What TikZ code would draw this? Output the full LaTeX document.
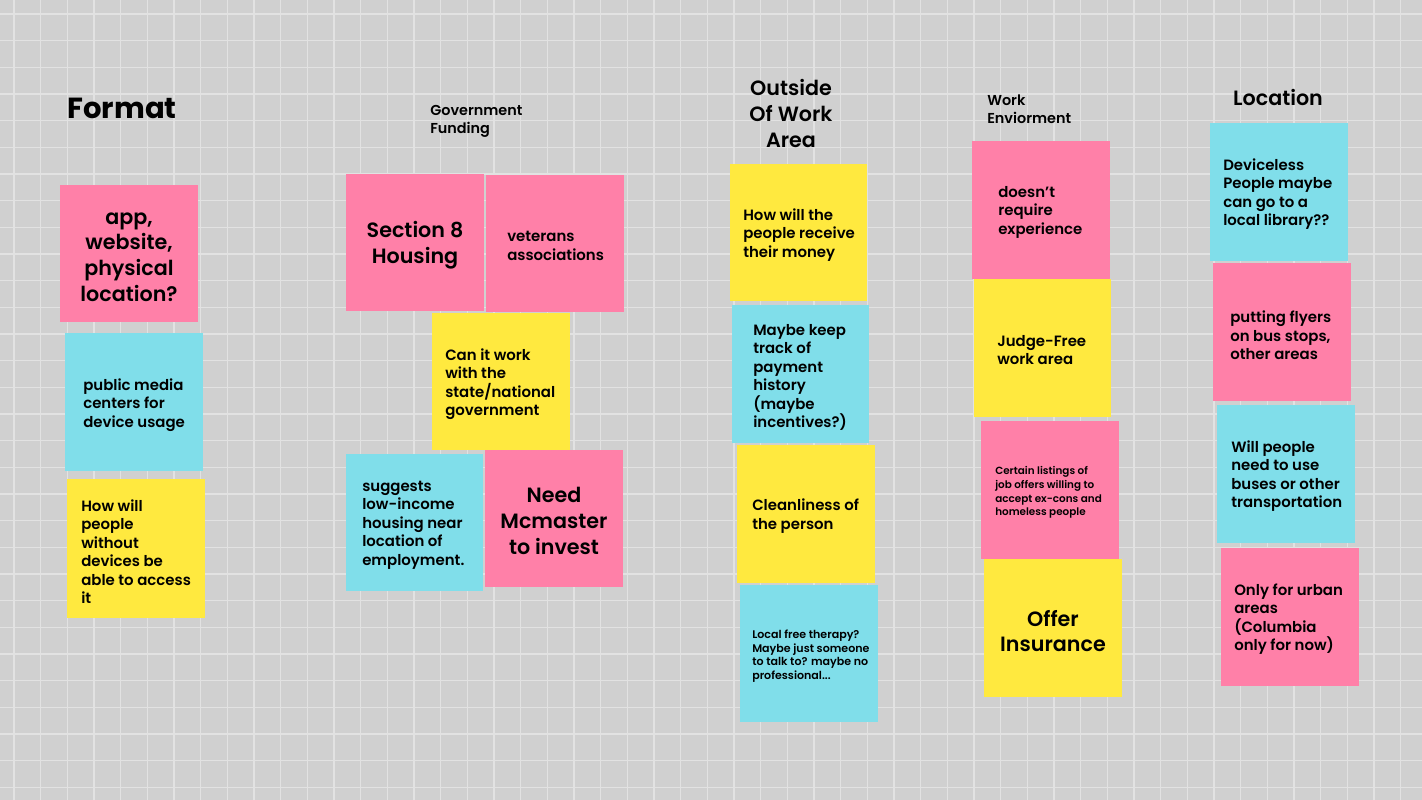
\documentclass[tikz,border=0pt]{standalone}
\usepackage{fontspec}
\setmainfont{Poppins SemiBold}[BoldFont={Poppins Bold}]
\usetikzlibrary{fit}
\definecolor{boardbg}{HTML}{D0D0D0}
\definecolor{boardline}{HTML}{E2E2E2}
\definecolor{notepink}{HTML}{FF80A8}
\definecolor{notecyan}{HTML}{80DEEA}
\definecolor{noteyellow}{HTML}{FFE93F}
\newcommand\apos{\char"0027\relax}
\tikzset{
  note/.style={inner sep=0pt, draw=none, fill=#1},
  txt/.style={inner sep=0pt, align=left, anchor=west, text=black, yshift=-1.9pt,
    font=\fontsize{11.2}{13.9}\selectfont},
  txtc/.style={inner sep=0pt, align=center, anchor=center, text=black},
  bigtxt/.style={font=\fontsize{15.5}{19.3}\selectfont, yshift=-1.6pt},
  smalltxt/.style={font=\fontsize{7.8}{10.2}\selectfont},
  headtxt/.style={font=\fontsize{15.5}{19.5}\selectfont},
  subhead/.style={font=\fontsize{10.8}{13.5}\selectfont},
}
\begin{document}
\begin{tikzpicture}[x=0.75pt,y=-0.75pt]
\useasboundingbox (0,0) rectangle (1422,800);
% board with its grid
\fill[boardbg] (0,0) rectangle (1422,800);
\foreach \i in {0,...,53} \draw[boardline, line width=1.1pt] ({14+\i*26.667},0) -- ({14+\i*26.667},800);
\foreach \j in {0,...,29} \draw[boardline, line width=1.1pt] (0,{14+\j*26.667}) -- (1422,{14+\j*26.667});

% ---- Format
\node[txtc, font=\bfseries\fontsize{21.8}{26}\selectfont] (hformat) at (122,108.5) {Format};
\node[note=notepink, fit={(60,185) (198,322)}] (f1) {};
\node[txtc, bigtxt] (f1t) at (129,255) {app,\\website,\\physical\\location?};
\node[note=notecyan, fit={(65,333) (203,471)}] (f2) {};
\node[txt] (f2t) at (83,402.5) {public media\\centers for\\device usage};
\node[note=noteyellow, fit={(67,479) (205,618)}] (f3) {};
\node[txt] (f3t) at (81,549) {How will\\people\\without\\devices be\\able to access\\it};

% ---- Government Funding
\node[txt, subhead] (hgov) at (430,119) {Government\\Funding};
\node[note=notepink, fit={(346,174) (484,311)}] (g1) {};
\node[txtc, bigtxt] (g1t) at (415,243) {Section 8\\Housing};
\node[note=notepink, fit={(486,175) (624,312)}] (g2) {};
\node[txt] (g2t) at (507,243.5) {veterans\\associations};
\node[note=noteyellow, fit={(432,313) (570,450)}] (g3) {};
\node[txt] (g3t) at (445,381.5) {Can it work\\with the\\state/national\\government};
\node[note=notecyan, fit={(346,454) (483,591)}] (g4) {};
\node[txt] (g4t) at (362,522.5) {suggests\\low-income\\housing near\\location of\\employment.};
\node[note=notepink, fit={(485,450) (623,587)}] (g5) {};
\node[txtc, bigtxt] (g5t) at (554,519) {Need\\Mcmaster\\to invest};

% ---- Outside Of Work Area
\node[txtc, headtxt] (hout) at (791,113) {Outside\\Of Work\\Area};
\node[note=noteyellow, fit={(730,164) (867,301)}] (o1) {};
\node[txt] (o1t) at (743,232.5) {How will the\\people receive\\their money};
\node[note=notecyan, fit={(732,305) (869,443)}] (o2) {};
\node[txt] (o2t) at (753,375) {Maybe keep\\track of\\payment\\history\\(maybe\\incentives?)};
\node[note=noteyellow, fit={(737,445) (875,583)}] (o3) {};
\node[txt] (o3t) at (752,513.5) {Cleanliness of\\the person};
\node[note=notecyan, fit={(740,585) (878,722)}] (o4) {};
\node[txt, font=\fontsize{8.3}{10.3}\selectfont] (o4t) at (752,653.5) {Local free therapy?\\Maybe just someone\\to talk to? maybe no\\professional...};

% ---- Work Enviorment
\node[txt, subhead] (hwork) at (987,106.5) {Work\\Enviorment};
\node[note=notepink, fit={(972,141) (1110,279)}] (w1) {};
\node[txt] (w1t) at (998,209.5) {doesn\apos t\\require\\experience};
\node[note=noteyellow, fit={(974,279) (1111,417)}] (w2) {};
\node[txt] (w2t) at (997,347.5) {Judge-Free\\work area};
\node[note=notepink, fit={(981,421) (1119,559)}] (w3) {};
\node[txt, smalltxt] (w3t) at (995,490) {Certain listings of\\job offers willing to\\accept ex-cons and\\homeless people};
\node[note=noteyellow, fit={(984,559) (1122,697)}] (w4) {};
\node[txtc, bigtxt] (w4t) at (1053,629) {Offer\\Insurance};

% ---- Location
\node[txtc, headtxt] (hloc) at (1278,97) {Location};
\node[note=notecyan, fit={(1210,123) (1348,261)}] (l1) {};
\node[txt] (l1t) at (1223,191.5) {Deviceless\\People maybe\\can go to a\\local library??};
\node[note=notepink, fit={(1213,263) (1351,401)}] (l2) {};
\node[txt] (l2t) at (1230,333) {putting flyers\\on bus stops,\\other areas};
\node[note=notecyan, fit={(1217,405) (1355,543)}] (l3) {};
\node[txt] (l3t) at (1231,473.5) {Will people\\need to use\\buses or other\\transportation};
\node[note=notepink, fit={(1221,548) (1359,686)}] (l4) {};
\node[txt] (l4t) at (1234,616.5) {Only for urban\\areas\\(Columbia\\only for now)};
\end{tikzpicture}
\end{document}
